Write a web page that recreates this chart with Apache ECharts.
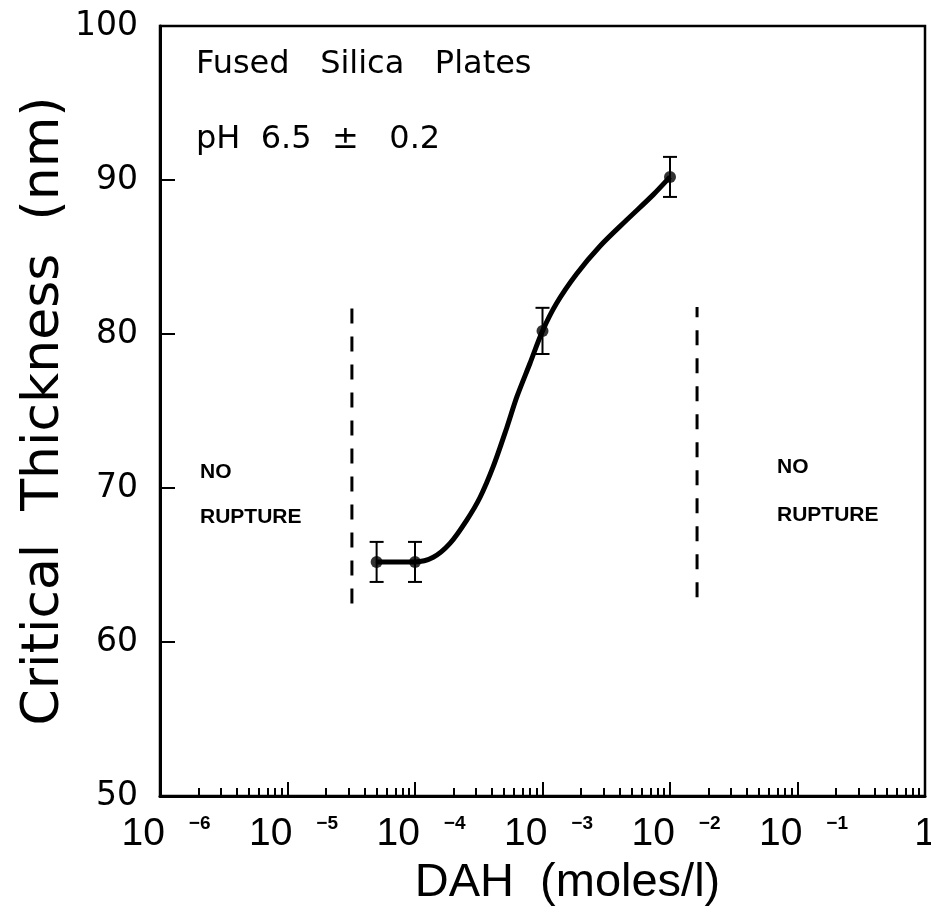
<!DOCTYPE html>
<html>
<head>
<meta charset="utf-8">
<script src="https://cdn.jsdelivr.net/npm/echarts@6/dist/echarts.min.js"></script>
<style>html,body{margin:0;padding:0;background:#fff;overflow:hidden}#chart{width:931px;height:917px}</style>
</head>
<body>
<div id="chart"></div>
<script>
// Measured points: DAH concentration (moles/l) vs critical thickness (nm)
const dahConc = [5e-5, 1e-4, 1e-3, 1e-2];
const criticalThickness = [65.2, 65.2, 80.2, 90.2];
const thicknessErr = [1.3, 1.3, 1.5, 1.3];

// Fitted curve
const curveConc = [5e-5, 1e-4, 1.39e-4, 1.88e-4, 2.54e-4, 3.24e-4, 4.11e-4, 5.24e-4, 6.28e-4, 7.98e-4, 1e-3, 1.29e-3, 1.85e-3, 2.82e-3, 4.57e-3, 7.40e-3, 1e-2];
const curveThickness = [65.2, 65.2, 65.5, 66.4, 67.9, 69.4, 71.4, 73.9, 75.9, 78.1, 80.2, 82.0, 83.9, 85.7, 87.4, 89.05, 90.2];

// "No rupture" boundaries (dashed vertical lines)
const boundaryConc = [3.2e-5, 1.63e-2];
const boundaryLow = [62.5, 62.9];
const boundaryHigh = [81.7, 81.75];

// Axis ticks
const yTicks = [50, 60, 70, 80, 90, 100];
const minorTicks = [
  2e-6, 3e-6, 4e-6, 5e-6, 6e-6, 7e-6, 8e-6, 9e-6,
  2e-5, 3e-5, 4e-5, 5e-5, 6e-5, 7e-5, 8e-5, 9e-5,
  2e-4, 3e-4, 4e-4, 5e-4, 6e-4, 7e-4, 8e-4, 9e-4,
  2e-3, 3e-3, 4e-3, 5e-3, 6e-3, 7e-3, 8e-3, 9e-3,
  2e-2, 3e-2, 4e-2, 5e-2, 6e-2, 7e-2, 8e-2, 9e-2,
  2e-1, 3e-1, 4e-1, 5e-1, 6e-1, 7e-1, 8e-1, 9e-1
];

// Texts
const xTitle = 'DAH  (moles/l)';
const yTitle = 'Critical  Thickness  (nm)';
const note1 = 'Fused   Silica   Plates';
const note2 = 'pH  6.5  \u00b1   0.2';
const regionLabel = ['NO', 'RUPTURE'];

const chart = echarts.init(document.getElementById('chart'), null, {renderer: 'canvas'});
const black = '#000';

const pointData = dahConc.map((x, i) => [x, criticalThickness[i], thicknessErr[i]]);
const curveData = curveConc.map((x, i) => [x, curveThickness[i]]);
const boundarySeries = boundaryConc.map((x, i) => ({
  type: 'line',
  xAxisIndex: 0, yAxisIndex: 0,
  data: [[x, boundaryLow[i]], [x, boundaryHigh[i]]],
  symbol: 'none',
  silent: true,
  lineStyle: {color: black, width: 3, type: [15, 13]},
  z: 3
}));

const option = {
  backgroundColor: '#fff',
  animation: false,
  grid: {left: 160, right: 6, top: 26, bottom: 121, show: true, borderColor: black, borderWidth: 2.5,
    backgroundColor: 'transparent', outerBoundsMode: 'none', containLabel: false},
  xAxis: [
    {
      type: 'log', logBase: 10, min: 1e-6, max: 1,
      position: 'bottom',
      name: xTitle, nameLocation: 'middle', nameGap: 64, nameMoveOverlap: false,
      nameTextStyle: {fontFamily: 'Liberation Sans', fontSize: 47, color: black, padding: [0, 0, 0, 50]},
      axisLine: {show: true, onZero: false, lineStyle: {color: black, width: 3}},
      axisTick: {show: true, inside: true, length: 14, lineStyle: {color: black, width: 2}},
      splitLine: {show: false},
      minorTick: {show: false},
      axisLabel: {
        margin: 18,
        formatter: function (v) {
          const p = Math.round(Math.log10(v));
          if (p === 0) return '{o|1}';
          return '{b|10}{e|\u2212' + (-p) + '}';
        },
        rich: {
          o: {fontFamily: 'Liberation Sans', fontSize: 39, color: black, lineHeight: 40},
          b: {fontFamily: 'Liberation Sans', fontSize: 39, color: black, lineHeight: 40, padding: [0, 0, 0, 12]},
          e: {fontFamily: 'Liberation Sans', fontSize: 19, fontWeight: 'bold', color: black, lineHeight: 22, verticalAlign: 'top', padding: [0, 0, 0, 24]}
        }
      }
    },
    {
      type: 'value', min: -6, max: 0,
      position: 'bottom',
      axisLine: {show: false},
      axisLabel: {show: false},
      splitLine: {show: false},
      axisTick: {show: true, inside: true, length: 8, customValues: minorTicks.map(Math.log10), lineStyle: {color: black, width: 2}}
    }
  ],
  yAxis: {
    type: 'value', min: 50, max: 100, interval: 10,
    name: yTitle, nameLocation: 'middle', nameGap: 90, nameMoveOverlap: false,
    nameTextStyle: {fontFamily: 'DejaVu Sans', fontSize: 52, color: black},
    axisLine: {show: true, onZero: false, lineStyle: {color: black, width: 3}},
    axisTick: {show: true, inside: true, length: 15, lineStyle: {color: black, width: 2}},
    splitLine: {show: false},
    axisLabel: {margin: 22, fontFamily: 'DejaVu Sans', fontSize: 33, color: black,
      formatter: function (v) { return yTicks.indexOf(v) >= 0 ? String(v) : ''; }}
  },
  series: [
    {
      type: 'line', data: curveData, smooth: 0.3, symbol: 'none', silent: true,
      lineStyle: {color: black, width: 5}, z: 4
    },
    {
      type: 'custom', data: pointData, encode: {x: 0, y: 1}, z: 5, silent: true,
      renderItem: function (params, api) {
        const x = api.value(0), y = api.value(1), e = api.value(2);
        const top = api.coord([x, y + e]);
        const bot = api.coord([x, y - e]);
        const hw = 7;
        const st = {stroke: black, lineWidth: 2};
        return {type: 'group', children: [
          {type: 'line', shape: {x1: top[0], y1: top[1], x2: bot[0], y2: bot[1]}, style: st},
          {type: 'line', shape: {x1: top[0] - hw, y1: top[1], x2: top[0] + hw, y2: top[1]}, style: st},
          {type: 'line', shape: {x1: bot[0] - hw, y1: bot[1], x2: bot[0] + hw, y2: bot[1]}, style: st}
        ]};
      }
    },
    {
      type: 'scatter', data: pointData.map(p => [p[0], p[1]]), symbol: 'circle', symbolSize: 12,
      itemStyle: {color: black}, z: 6, silent: true
    }
  ].concat(boundarySeries),
  graphic: [
    {type: 'text', left: 196, top: 49, style: {text: note1, font: '32px "DejaVu Sans"', fill: black}},
    {type: 'text', left: 196, top: 124, style: {text: note2, font: '32px "DejaVu Sans"', fill: black}},
    {type: 'text', left: 200, top: 462, style: {text: regionLabel[0], font: 'bold 21px "Liberation Sans"', fill: black}},
    {type: 'text', left: 200, top: 507, style: {text: regionLabel[1], font: 'bold 21px "Liberation Sans"', fill: black}},
    {type: 'text', left: 777, top: 457, style: {text: regionLabel[0], font: 'bold 21px "Liberation Sans"', fill: black}},
    {type: 'text', left: 777, top: 505, style: {text: regionLabel[1], font: 'bold 21px "Liberation Sans"', fill: black}}
  ]
};
chart.setOption(option);
</script>
</body>
</html>
